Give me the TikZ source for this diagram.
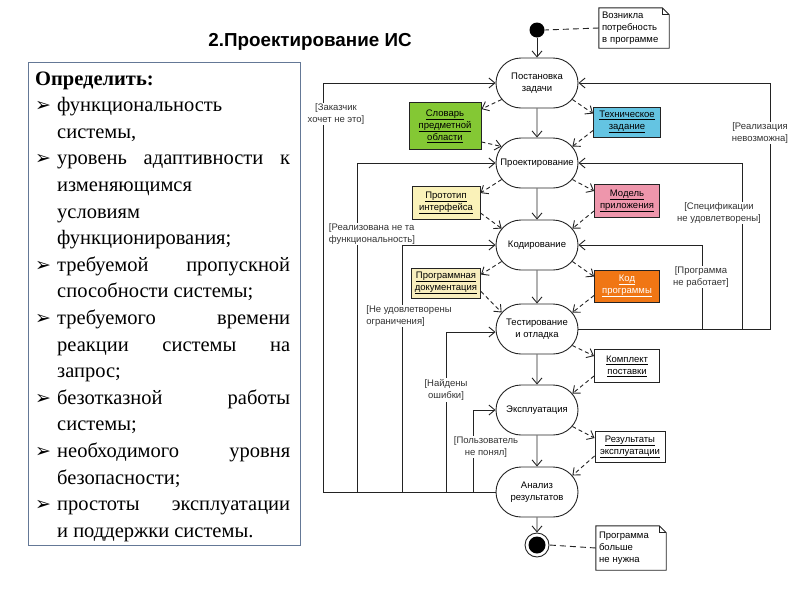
\documentclass[tikz,border=0pt]{standalone}
\usepackage{fontspec}
\setmainfont{Liberation Serif}
\setsansfont{Liberation Sans}
\newfontfamily\symfont{DejaVu Sans}
\usetikzlibrary{shapes.misc,arrows.meta,calc}
\definecolor{ln}{RGB}{35,35,35}
\definecolor{cgreen}{RGB}{132,200,52}
\definecolor{ccyan}{RGB}{100,196,226}
\definecolor{cyel}{RGB}{250,242,185}
\definecolor{cpink}{RGB}{238,150,172}
\definecolor{cbeige}{RGB}{248,238,190}
\definecolor{corange}{RGB}{240,118,20}
\definecolor{framecol}{RGB}{100,120,150}
\newcommand{\ml}[1]{\makebox[32pt]{#1}}
\newcommand{\bul}{\noindent\hangindent=22pt\hangafter=1\makebox[22pt][l]{\raisebox{0pt}{\symfont\fontsize{19}{19}\selectfont ➢}}}
\begin{document}
\begin{tikzpicture}[x=1pt,y=-1pt,
  act/.style={rounded rectangle, draw=ln, line width=0.9pt, minimum height=50pt, minimum width=82pt, inner xsep=0pt, inner ysep=1pt, font=\sffamily\fontsize{9.5}{12}\selectfont, align=center},
  obj/.style={draw=ln, line width=0.9pt, font=\sffamily\fontsize{9.5}{12}\selectfont, align=center, inner sep=1.5pt},
  arr/.style={draw=ln, line width=0.9pt, -{Straight Barb[length=6pt,width=10pt]}},
  darr/.style={arr, dash pattern=on 4pt off 3pt},
  dline/.style={draw=ln, line width=0.9pt, dash pattern=on 6pt off 4pt},
  lbl/.style={font=\sffamily\fontsize{9.5}{12}\selectfont, align=center, fill=white, inner sep=1pt, text=black!80},
  note/.style={font=\sffamily\fontsize{9.5}{12}\selectfont, align=left, text width=64pt, inner sep=3pt, minimum height=40pt},
]
\useasboundingbox (0,0) rectangle (800,600);

% title
\node[font=\sffamily\bfseries\fontsize{18.8}{21}\selectfont] (title) at (310,42) {2.Проектирование ИС};

% left box
\node[draw=framecol, line width=1.3pt, minimum width=272pt, minimum height=483pt, anchor=north west, inner sep=0] (frame) at (28,62) {};
\node[anchor=base west, inner sep=0, text width=255pt, align=justify, font=\fontsize{20.5}{26.6}\selectfont] (txt) at (35,85) {%
\textbf{Определить:}\par
\bul функциональность\linebreak системы,\par
\bul уровень адаптивности к\linebreak изменяющимся\linebreak условиям\linebreak функционирования;\par
\bul требуемой пропускной\linebreak способности системы;\par
\bul требуемого времени\linebreak реакции системы на\linebreak запрос;\par
\bul безотказной работы\linebreak системы;\par
\bul необходимого уровня\linebreak безопасности;\par
\bul простоты эксплуатации\linebreak и поддержки системы.\par};

% activities
\node[circle, fill=black, minimum size=15pt, inner sep=0] (init) at (537,30) {};
\node[act] (p1) at (537,83) {\ml{Постановка}\\\ml{задачи}};
\node[act] (p2) at (537,163) {\ml{Проектирование}};
\node[act] (p3) at (537,245) {\ml{Кодирование}};
\node[act] (p4) at (537,329) {\ml{Тестирование}\\\ml{и отладка}};
\node[act] (p5) at (537,410) {\ml{Эксплуатация}};
\node[act] (p6) at (537,492) {\ml{Анализ}\\\ml{результатов}};
\node[circle, draw=ln, line width=0.9pt, minimum size=24pt, inner sep=0] (fin) at (537,545) {};
\node[circle, fill=black, minimum size=17pt, inner sep=0] (finin) at (537,545) {};

% notes
\node[note] (n1) at (634,28) {Возникла\\потребность\\в программе};
\node[note, minimum height=44pt] (n2) at (631,548) {Программа\\больше\\не нужна};
\foreach \n in {n1,n2}{
  \draw[ln, line width=0.9pt] (\n.north west) -- ([xshift=-7pt]\n.north east) -- ([yshift=-7pt]\n.north east) -- (\n.south east) -- (\n.south west) -- cycle;
  \draw[ln, line width=0.7pt] ([xshift=-7pt]\n.north east) -- ([xshift=-7pt,yshift=-7pt]\n.north east) -- ([yshift=-7pt]\n.north east);
}
\draw[dline] (n1.west) -- (init.east);
\draw[dline] (n2.west) -- (fin.east);

% objects
\node[obj, fill=cgreen, minimum width=72pt, minimum height=47pt] (slov) at (445,126) {\underline{Словарь}\\\underline{предметной}\\\underline{области}};
\node[obj, fill=ccyan, minimum width=67pt, minimum height=30pt] (tz) at (627,122) {\underline{Техническое}\\\underline{задание}};
\node[obj, fill=cyel, minimum width=68pt, minimum height=33pt] (prot) at (446,203) {\underline{Прототип}\\\underline{интерфейса}};
\node[obj, fill=cpink, minimum width=65pt, minimum height=33pt] (model) at (627,201) {\underline{Модель}\\\underline{приложения}};
\node[obj, fill=cbeige, minimum width=69pt, minimum height=30pt] (doc) at (446,283) {\underline{Программная}\\\underline{документация}};
\node[obj, fill=corange, text=white, minimum width=65pt, minimum height=32pt] (code) at (627,286) {\underline{Код}\\\underline{программы}};
\node[obj, fill=white, minimum width=65pt, minimum height=33pt] (kompl) at (627,366) {\underline{Комплект}\\\underline{поставки}};
\node[obj, fill=white, minimum width=70pt, minimum height=31pt] (res) at (630,447) {\underline{Результаты}\\\underline{эксплуатации}};

% main flow
\draw[arr] (init) -- (p1);
\draw[arr] (p1) -- (p2);
\draw[arr] (p2) -- (p3);
\draw[arr] (p3) -- (p4);
\draw[arr] (p4) -- (p5);
\draw[arr] (p5) -- (p6);
\draw[arr] (p6) -- (fin);

% object flows (left)
\draw[darr] (p1.205) -- ([yshift=-7pt]slov.north east);
\draw[darr] ([yshift=8pt]slov.south east) -- (p2.155);
\draw[darr] (p2.205) -- ([yshift=-7pt]prot.north east);
\draw[darr] ([yshift=7pt]prot.south east) -- (p3.155);
\draw[darr] (p3.205) -- ([yshift=-7pt]doc.north east);
\draw[darr] ([yshift=7pt]doc.south east) -- (p4.155);
% object flows (right)
\draw[darr] (p1.-25) -- ([yshift=-7pt]tz.north west);
\draw[darr] ([yshift=7pt]tz.south west) -- (p2.25);
\draw[darr] (p2.-25) -- ([yshift=-7pt]model.north west);
\draw[darr] ([yshift=7pt]model.south west) -- (p3.25);
\draw[darr] (p3.-25) -- ([yshift=-7pt]code.north west);
\draw[darr] ([yshift=7pt]code.south west) -- (p4.25);
\draw[darr] (p4.-25) -- ([yshift=-7pt]kompl.north west);
\draw[darr] ([yshift=7pt]kompl.south west) -- (p5.25);
\draw[darr] (p5.-25) -- ([yshift=-7pt]res.north west);
\draw[darr] ([yshift=7pt]res.south west) -- (p6.25);

% left feedback loops
\coordinate (L1) at (323,0);
\coordinate (L2) at (357,0);
\coordinate (L3) at (402,0);
\coordinate (L4) at (446,0);
\coordinate (L5) at (473,0);
\draw[arr] (p6.west) -- (p6.west -| L1) -- (L1 |- p1.west) -- (p1.west);
\draw[arr] (p6.west) -- (p6.west -| L2) -- (L2 |- p2.west) -- (p2.west);
\draw[arr] (p6.west) -- (p6.west -| L3) -- (L3 |- p3.west) -- (p3.west);
\draw[arr] (p6.west) -- (p6.west -| L4) -- ([yshift=-3pt]L4 |- p4.west) -- ([yshift=-3pt]p4.west);
\draw[arr] (p6.west) -- (p6.west -| L5) -- (L5 |- p5.west) -- (p5.west);

% right feedback loops
\coordinate (R1) at (770,0);
\coordinate (R2) at (742,0);
\coordinate (R3) at (702,0);
\draw[arr] (p4.east) -- (p4.east -| R1) -- (R1 |- p1.east) -- (p1.east);
\draw[arr] (p4.east) -- (p4.east -| R2) -- (R2 |- p2.east) -- (p2.east);
\draw[arr] (p4.east) -- (p4.east -| R3) -- (R3 |- p3.east) -- (p3.east);

% guard labels
\node[lbl] (g1) at (336,114) {[Заказчик\\хочет не это]};
\node[lbl, align=left] (g2) at (372,234) {[Реализована не та\\функциональность]};
\node[lbl, align=left] (g3) at (409,316) {[Не удовлетворены\\ограничения]};
\node[lbl] (g4) at (446,390) {[Найдены\\ошибки]};
\node[lbl] (g5) at (486,447) {[Пользователь\\не понял]};
\node[lbl] (g6) at (760,133) {[Реализация\\невозможна]};
\node[lbl] (g7) at (719,213) {[Спецификации\\не удовлетворены]};
\node[lbl] (g8) at (701,277) {[Программа\\не работает]};
\end{tikzpicture}
\end{document}
